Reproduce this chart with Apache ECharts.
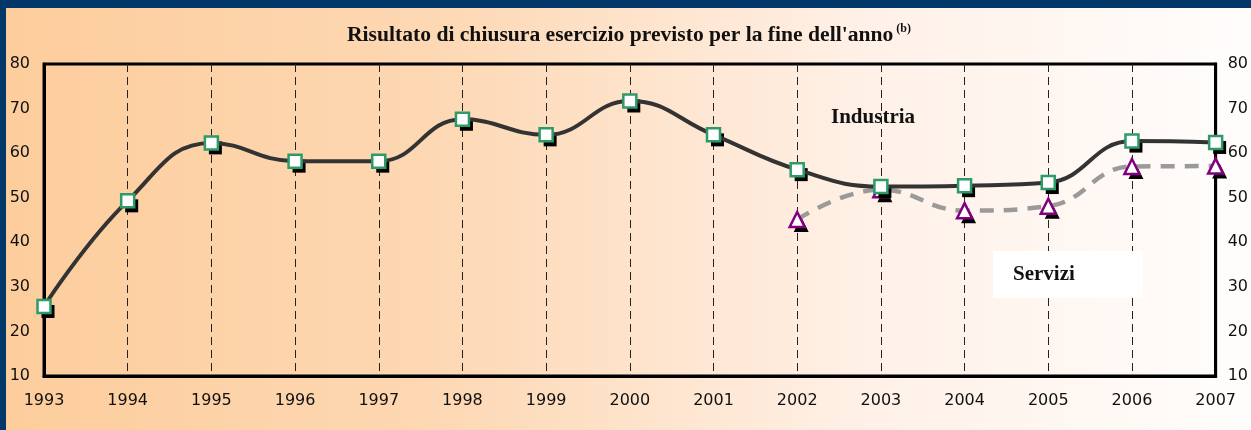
<!DOCTYPE html>
<html>
<head>
<meta charset="utf-8">
<script src="https://cdn.jsdelivr.net/npm/echarts@6/dist/echarts.min.js"></script>
<style>
  html, body { margin: 0; padding: 0; background: #023769; }
  #chart { position: absolute; left: 6px; top: 8px; width: 1245px; height: 422px; }
</style>
</head>
<body>
<div id="chart"></div>
<script>
// dati
var anni = ['1993', '1994', '1995', '1996', '1997', '1998', '1999', '2000',
  '2001', '2002', '2003', '2004', '2005', '2006', '2007'];
var industria = [25.6, 49.3, 62.3, 58.2, 58.2, 67.6, 64.1, 71.7, 64.1, 56.3, 52.5, 52.7, 53.4, 62.7, 62.4];
var servizi = [null, null, null, null, null, null, null, null, null, 45.1, 51.8, 47.1, 48.1, 57.0, 57.1];

var chart = echarts.init(document.getElementById('chart'));

var assetY = {
  type: 'value', min: 10, max: 80, interval: 10,
  axisLine: { show: true, lineStyle: { color: '#000', width: 3 } },
  axisTick: { show: false },
  splitLine: { show: false }
};

// ombra nera dei marcatori (stessi dati, spostata in basso a destra)
function ombra(dati, simbolo, size, z) {
  return {
    type: 'line',
    data: dati,
    symbol: simbolo,
    symbolSize: size,
    symbolOffset: [4, 5],
    showSymbol: true,
    lineStyle: { width: 0, opacity: 0 },
    itemStyle: { color: '#000' },
    silent: true,
    z: z
  };
}

var option = {
  backgroundColor: new echarts.graphic.LinearGradient(0, 0, 1, 0, [
    { offset: 0, color: '#fdcd9c' },
    { offset: 0.35, color: '#fdd8b4' },
    { offset: 0.7, color: '#fff1e8' },
    { offset: 1, color: '#fffdfc' }
  ]),
  animation: false,
  title: {
    text: "{t|Risultato di chiusura esercizio previsto per la fine dell'anno}{s| (b)}",
    left: 336,
    top: 10,
    textStyle: {
      rich: {
        t: { fontFamily: 'Liberation Serif', fontWeight: 'bold', fontSize: 21.6, color: '#111' },
        s: { fontFamily: 'Liberation Serif', fontSize: 12, color: '#111', verticalAlign: 'top', padding: [0, 0, 12, 0] }
      }
    }
  },
  grid: {
    left: 38,
    right: 29,
    top: 56,
    bottom: 54,
    show: true,
    borderColor: '#000',
    borderWidth: 3,
    backgroundColor: 'transparent'
  },
  xAxis: {
    type: 'category',
    data: anni,
    boundaryGap: false,
    axisLine: { lineStyle: { color: '#000', width: 3 } },
    axisTick: { show: false },
    axisLabel: { fontFamily: 'DejaVu Sans', fontSize: 16, color: '#111', margin: 17, interval: 0 },
    splitLine: { show: true, lineStyle: { color: '#222', width: 1, type: [8, 5] } }
  },
  yAxis: [
    Object.assign({}, assetY, {
      axisLabel: { fontFamily: 'DejaVu Sans', fontSize: 16, color: '#111', margin: 14 }
    }),
    Object.assign({}, assetY, {
      position: 'right',
      axisLabel: { fontFamily: 'DejaVu Sans', fontSize: 16, color: '#111', margin: 12, align: 'left' }
    })
  ],
  graphic: [
    {
      type: 'rect',
      shape: { x: 987, y: 243, width: 150, height: 47 },
      style: { fill: '#ffffff' },
      z: 1
    },
    {
      type: 'text',
      x: 825, y: 110,
      style: { text: 'Industria', fontFamily: 'Liberation Serif', fontWeight: 'bold', fontSize: 21, fill: '#111', verticalAlign: 'middle' },
      z: 10
    },
    {
      type: 'text',
      x: 1007, y: 267,
      style: { text: 'Servizi', fontFamily: 'Liberation Serif', fontWeight: 'bold', fontSize: 21, fill: '#111', verticalAlign: 'middle' },
      z: 10
    }
  ],
  series: [
    ombra(servizi, 'triangle', 15, 3),
    {
      name: 'Servizi',
      type: 'line',
      data: servizi,
      smooth: 0.45,
      z: 4,
      symbol: 'triangle',
      symbolSize: 15,
      lineStyle: { color: '#9a9a9a', width: 4.5, type: [14, 10] },
      itemStyle: { color: '#fff', borderColor: '#800080', borderWidth: 2.5 }
    },
    ombra(industria, 'rect', 13, 5),
    {
      name: 'Industria',
      type: 'line',
      data: industria,
      smooth: 0.45,
      z: 6,
      symbol: 'rect',
      symbolSize: 13,
      lineStyle: { color: '#333', width: 4 },
      itemStyle: { color: '#fff', borderColor: '#2e9a68', borderWidth: 2.5 }
    }
  ]
};

chart.setOption(option);
</script>
</body>
</html>
